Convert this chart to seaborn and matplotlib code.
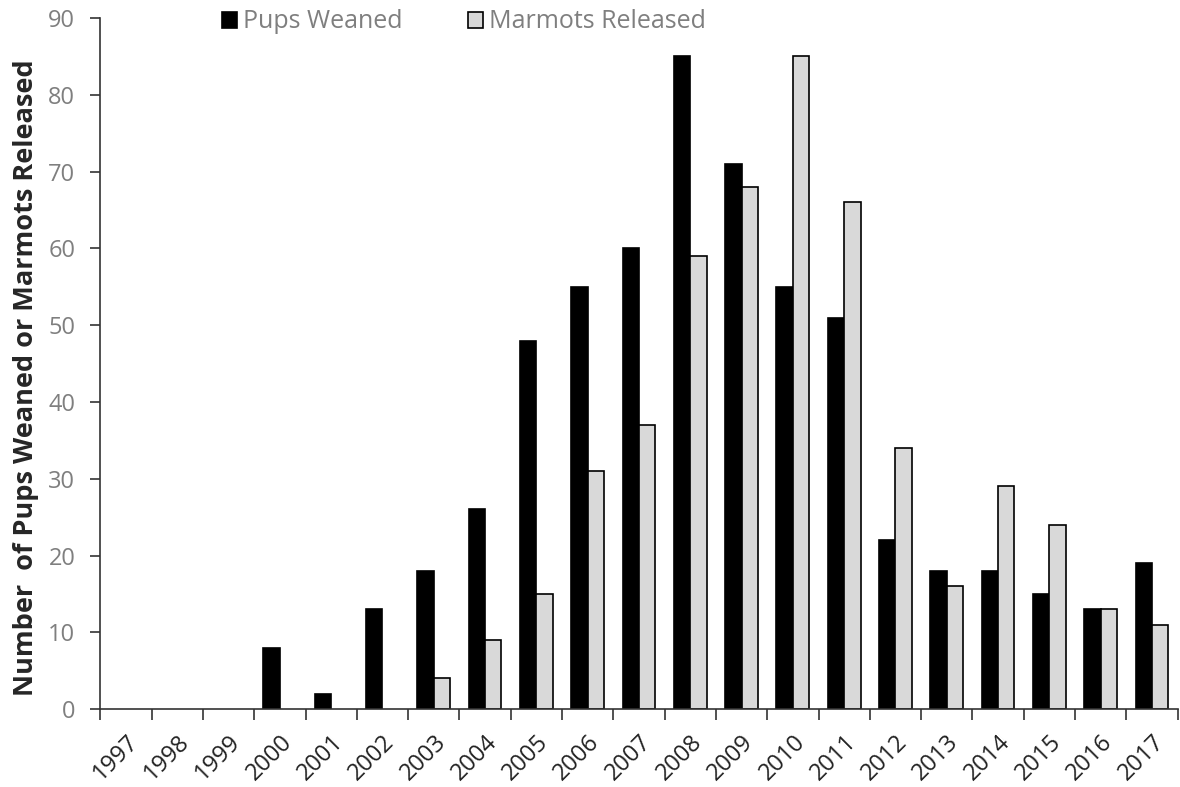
import pandas as pd
import seaborn as sns
import matplotlib.pyplot as plt
from matplotlib.ticker import FixedLocator

years = [str(y) for y in range(1997, 2018)]
pups_weaned = [0, 0, 0, 8, 2, 13, 18, 26, 48, 55, 60, 85, 71, 55, 51, 22, 18, 18, 15, 13, 19]
marmots_released = [0, 0, 0, 0, 0, 0, 4, 9, 15, 31, 37, 59, 68, 85, 66, 34, 16, 29, 24, 13, 11]
series = ["Pups Weaned", "Marmots Released"]

df = pd.DataFrame({
    "year": years * 2,
    "count": pups_weaned + marmots_released,
    "series": [series[0]] * len(years) + [series[1]] * len(years),
})

sns.set_style("white")
plt.rcParams["font.family"] = ["Open Sans", "DejaVu Sans"]

fig = plt.figure(figsize=(11.8, 7.87), dpi=100)
ax = fig.add_axes([0.085, 0.099, 0.913, 0.878])

sns.barplot(data=df, x="year", y="count", hue="series", order=years, hue_order=series,
            palette=["black", "#d9d9d9"], edgecolor="black", linewidth=1.2,
            width=0.64, gap=0, saturation=1, ax=ax)

# empty bars should not leave a line on the axis
for p in ax.patches:
    if p.get_height() == 0:
        p.set_linewidth(0)

ax.set_ylim(0, 90)
ax.set_xlim(-0.5, len(years) - 0.5)
ax.set_yticks(range(0, 91, 10))
ax.tick_params(axis="y", labelsize=17, left=True, length=7, width=1.2, direction="out",
               color="#333333", labelcolor="#7f7f7f", pad=11)

ax.set_xticks(range(len(years)))
ax.set_xticklabels(years, rotation=45, ha="right", rotation_mode="anchor", fontsize=17, color="#222222")
ax.tick_params(axis="x", which="major", length=0, pad=15)
ax.xaxis.set_minor_locator(FixedLocator([i - 0.5 for i in range(len(years) + 1)]))
ax.tick_params(axis="x", which="minor", bottom=True, length=8, width=1.2, direction="out", color="#333333")

for side in ["top", "right"]:
    ax.spines[side].set_visible(False)
for side in ["left", "bottom"]:
    ax.spines[side].set_color("#333333")
    ax.spines[side].set_linewidth(1.2)

ax.set_xlabel("")
ax.set_ylabel("Number  of Pups Weaned or Marmots Released", fontsize=19.5, fontweight="bold")
ax.yaxis.set_label_coords(-0.057, 0.48)

handles, labels = ax.get_legend_handles_labels()
ax.get_legend().remove()
for h in handles:
    h.set_edgecolor("black")
    h.set_linewidth(1.2)
leg = fig.legend(handles, labels, loc="center left", bbox_to_anchor=(222 / 1180, 1 - 22 / 787),
                 ncol=2, frameon=False, fontsize=18, handlelength=0.6, handleheight=0.6,
                 handletextpad=0.25, columnspacing=2.6, borderpad=0, borderaxespad=0)
for t in leg.get_texts():
    t.set_color("#7f7f7f")

fig.savefig("out.png", dpi=100)
